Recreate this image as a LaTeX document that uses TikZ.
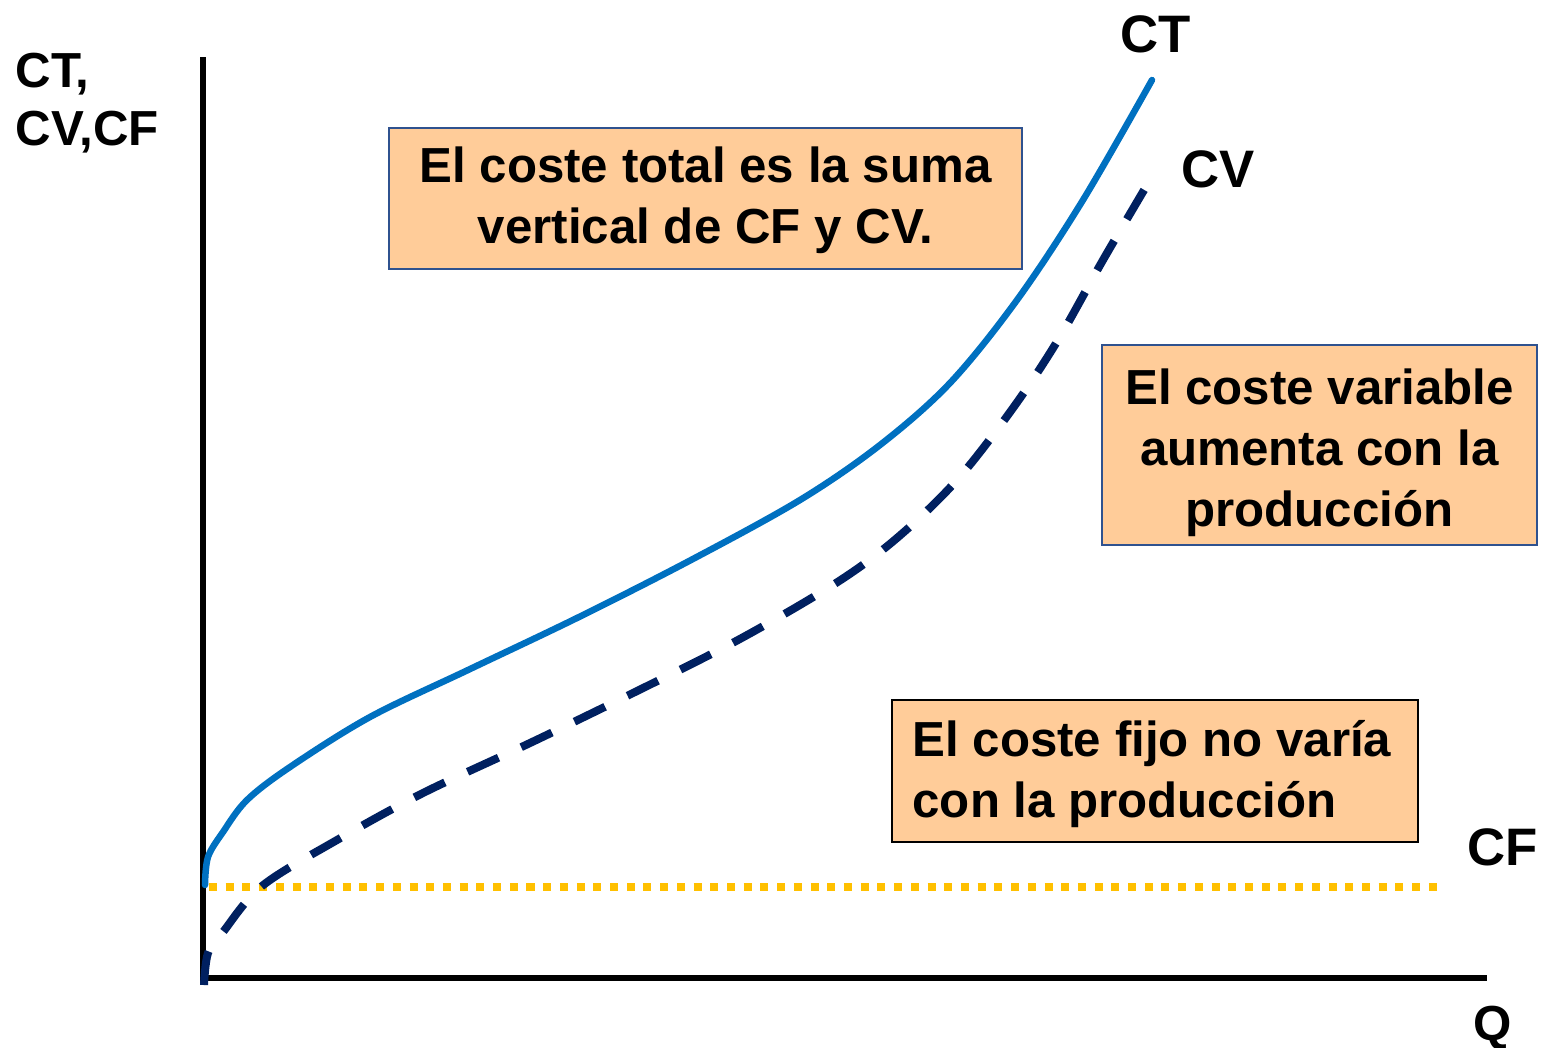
\documentclass[tikz,border=0pt]{standalone}
\usepackage{fontspec}
\setmainfont{Liberation Sans}
\definecolor{ctblue}{HTML}{0070C0}
\definecolor{cvnavy}{HTML}{002060}
\definecolor{cfgold}{HTML}{FFC000}
\definecolor{boxfill}{HTML}{FFCC99}
\definecolor{boxline}{HTML}{2F528F}
\begin{document}
\begin{tikzpicture}[x=0.01cm,y=-0.01cm,
  lbl/.style={font=\bfseries\fontsize{15}{18}\selectfont, inner sep=0pt, anchor=base west},
  axlbl/.style={font=\bfseries\fontsize{14}{17}\selectfont, inner sep=0pt, anchor=base west},
  infobox/.style={fill=boxfill, line width=0.02cm, inner sep=0pt},
  infotext/.style={font=\bfseries\fontsize{14}{17.4}\selectfont, inner sep=0pt},
  axisline/.style={line width=0.055cm, black},
]
\useasboundingbox (0,0) rectangle (1544,1047);

% axes
\coordinate (ytop) at (203,57);
\coordinate (orig) at (203,978);
\coordinate (xend) at (1487,978);
\draw[axisline] (ytop) -- (203,981);
\draw[axisline] (200.3,978) -- (xend);

% CF dotted line
\coordinate (cfa) at (209,887);
\coordinate (cfb) at (1440,887);
\draw[cfgold, line width=0.08cm, dash pattern=on 0.08cm off 0.087cm] (cfa) -- (cfb);

% CV dashed curve
\draw[cvnavy, line width=0.08cm, dash pattern=on 0.34cm off 0.25cm]
  plot[smooth, tension=0.55] coordinates {
  (204,985) (208,953) (223,932) (262,886) (337,840) (423,793) (530,743)
  (633,693) (738,640) (836,583) (897,538) (957,480) (1013,408) (1058,340)
  (1103,260) (1150,180)};

% CT solid curve
\draw[ctblue, line width=0.065cm, line cap=round]
  plot[smooth, tension=0.55] coordinates {
  (205,885) (208,857) (223,832) (247,800) (290,767) (370,717) (468,670)
  (579,617) (691,560) (800,500) (880,445) (950,383) (1017,300) (1083,200)
  (1152,80)};

% labels
\node[axlbl] (ylab1) at (15,87) {CT,};
\node[axlbl] (ylab2) at (15,145) {CV,CF};
\node[lbl] (ctlab) at (1120,52) {CT};
\node[lbl] (cvlab) at (1181,187) {CV};
\node[lbl] (cflab) at (1467,865) {CF};
\node[axlbl] (qlab) at (1473,1040) {Q};

% boxes
\node[infobox, draw=boxline, minimum width=6.33cm, minimum height=1.41cm] (box1) at (705.5,198.5) {};
\node[infotext, align=center] (box1txt) at ([yshift=-0.02cm]box1.center) {El coste total es la suma\\vertical de CF y CV.};

\node[infobox, draw=boxline, minimum width=4.35cm, minimum height=2.00cm] (box2) at (1319.5,445) {};
\node[infotext, align=center] (box2txt) at ([yshift=-0.08cm]box2.center) {El coste variable\\aumenta con la\\producción};

\node[infobox, draw=black, minimum width=5.26cm, minimum height=1.42cm] (box3) at (1155,771) {};
\node[infotext, align=left, anchor=west] (box3txt) at ([xshift=0.21cm,yshift=-0.03cm]box3.west) {El coste fijo no varía\\con la producción};
\end{tikzpicture}
\end{document}
